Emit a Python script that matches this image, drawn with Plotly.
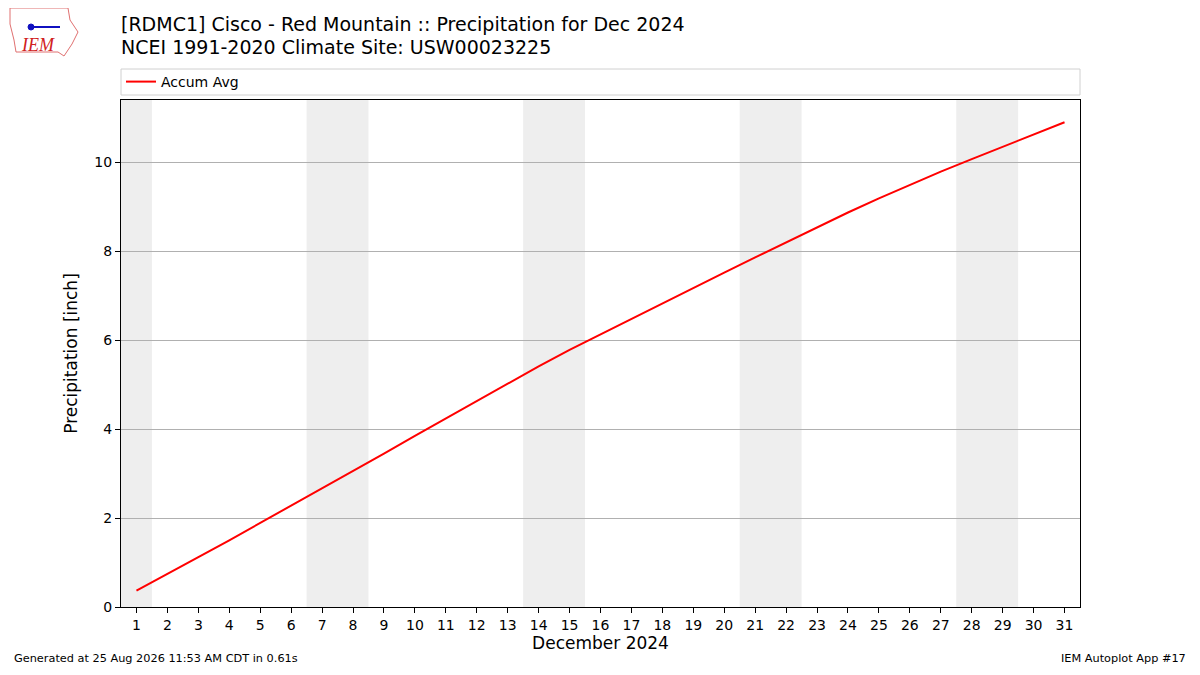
import plotly.graph_objects as go

# Daily values
DAYS = list(range(1, 32))
ACCUM_AVG = [
    0.37, 0.74, 1.12, 1.50, 1.89, 2.28, 2.66, 3.05, 3.45, 3.85,
    4.24, 4.63, 5.02, 5.41, 5.78, 6.13, 6.48, 6.83, 7.17, 7.52,
    7.86, 8.20, 8.54, 8.87, 9.19, 9.49, 9.79, 10.07, 10.35, 10.62,
    10.90,
]
# weekend spans (Dec 2024 starts on a Sunday)
WEEKENDS = [(0.5, 1.5), (6.5, 8.5), (13.5, 15.5), (20.5, 22.5), (27.5, 29.5)]

TITLE_1 = "[RDMC1] Cisco - Red Mountain :: Precipitation for Dec 2024"
TITLE_2 = "NCEI 1991-2020 Climate Site: USW00023225"
FOOTER_LEFT = "Generated at 25 Aug 2026 11:53 AM CDT in 0.61s"
FOOTER_RIGHT = "IEM Autoplot App #17"

FONT = "DejaVu Sans"

# page body has an 8px margin, so the figure is 16px smaller than the window
# plot area in page pixels: x 121..1080, y 100..607
PX0, PX1, PY0, PY1 = 121, 1080, 100, 607


def px(x):
    return (x - PX0) / (PX1 - PX0)


def py(y):
    return (PY1 - y) / (PY1 - PY0)


fig = go.Figure()
fig.add_trace(
    go.Scatter(
        x=DAYS,
        y=ACCUM_AVG,
        mode="lines",
        name="Accum Avg",
        line=dict(color="red", width=2),
    )
)

for x0, x1 in WEEKENDS:
    fig.add_vrect(x0=x0, x1=x1, fillcolor="#eeeeee", line_width=0, layer="below")

# legend frame spanning the plot width, like matplotlib's mode="expand"
fig.add_shape(
    type="rect", xref="paper", yref="paper",
    x0=0, x1=1, y0=py(95), y1=py(69),
    line=dict(color="#d0d0d0", width=1), fillcolor="white",
)

fig.update_xaxes(
    range=[0.5, 31.5],
    tickmode="array",
    tickvals=DAYS,
    ticktext=[str(d) for d in DAYS],
    ticks="outside", ticklen=5, tickcolor="black",
    showgrid=False, zeroline=False,
    showline=True, linecolor="black", mirror=True,
    title=dict(text="December 2024", font=dict(size=17), standoff=4),
    tickfont=dict(size=14),
)
fig.update_yaxes(
    range=[0, 11.4],
    tickvals=[0, 2, 4, 6, 8, 10],
    ticks="outside", ticklen=5, tickcolor="black",
    showgrid=True, gridcolor="#b0b0b0", zeroline=False,
    showline=True, linecolor="black", mirror=True,
    title=dict(text="Precipitation [inch]", font=dict(size=17), standoff=12),
    tickfont=dict(size=14),
)

for text, y in [(TITLE_1, 24), (TITLE_2, 47)]:
    fig.add_annotation(
        text=text, xref="paper", yref="paper",
        x=px(119), y=py(y),
        xanchor="left", yanchor="middle", showarrow=False,
        font=dict(size=19, color="black"),
    )

# footers sit at the very bottom edge of the figure
fig.add_annotation(
    text=FOOTER_LEFT, xref="paper", yref="paper",
    x=px(12), y=py(667),
    xanchor="left", yanchor="bottom", showarrow=False,
    font=dict(size=11.3, color="black"),
)
fig.add_annotation(
    text=FOOTER_RIGHT, xref="paper", yref="paper",
    x=px(1188), y=py(667),
    xanchor="right", yanchor="bottom", showarrow=False,
    font=dict(size=11.3, color="black"),
)

# rough stand-in for the IEM logo
outline = [(10, 8), (68, 8), (70, 20), (78, 32), (72, 44), (64, 56), (58, 52), (16, 52), (14, 40), (10, 24)]
path = "M " + " L ".join(f"{px(x)},{py(y)}" for x, y in outline) + " Z"
fig.add_shape(
    type="path", xref="paper", yref="paper", path=path,
    line=dict(color="#e07070", width=1),
)
fig.add_shape(
    type="line", xref="paper", yref="paper",
    x0=px(30), x1=px(60), y0=py(27), y1=py(27),
    line=dict(color="#1010c0", width=2),
)
fig.add_shape(
    type="circle", xref="paper", yref="paper",
    x0=px(28), x1=px(34), y0=py(30), y1=py(24),
    fillcolor="#1010c0", line=dict(color="#1010c0", width=1),
)
fig.add_annotation(
    text="<i>IEM</i>", xref="paper", yref="paper",
    x=px(38), y=py(45),
    xanchor="center", yanchor="middle", showarrow=False,
    font=dict(size=18, color="#d02020", family="Liberation Serif"),
)

fig.update_layout(
    width=1184,
    height=659,
    font=dict(family=FONT, color="black", size=14),
    plot_bgcolor="white",
    paper_bgcolor="white",
    margin=dict(l=PX0 - 8, r=1200 - PX1 - 8, t=PY0 - 8, b=675 - PY1 - 8),
    showlegend=True,
    legend=dict(
        x=0.0, y=py(82), xanchor="left", yanchor="middle",
        orientation="h", bgcolor="rgba(0,0,0,0)",
        font=dict(size=14),
    ),
)

fig.write_html("out.html")
